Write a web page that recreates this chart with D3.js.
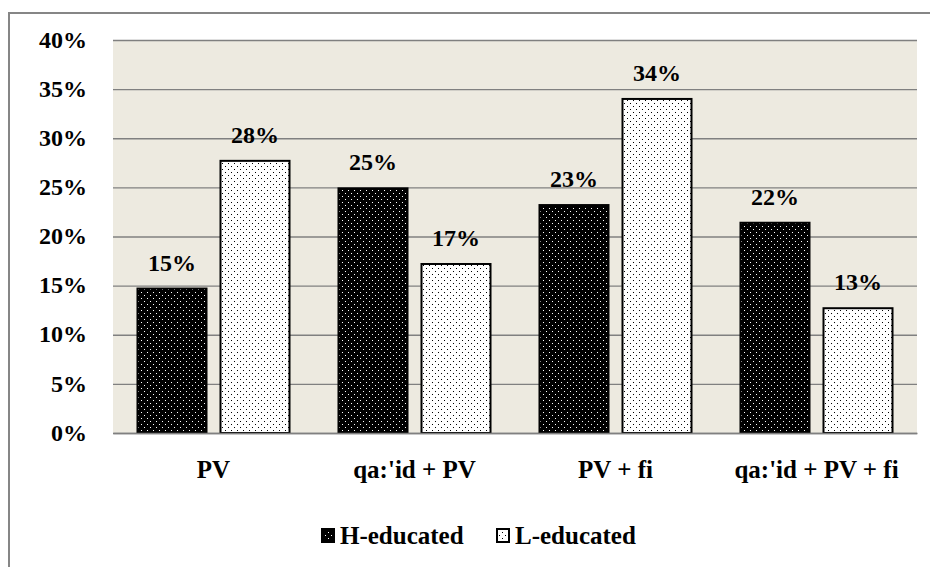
<!DOCTYPE html>
<html><head><meta charset="utf-8">
<script src="https://cdn.jsdelivr.net/npm/d3@7"></script>
<style>body{margin:0;background:#fff}svg{display:block}
svg text{font-family:"Liberation Serif","Times New Roman","DejaVu Serif",Tinos,serif;font-weight:bold}</style>
</head><body>
<script>
const categories = ["PV", "qa:'id + PV", "PV + fi", "qa:'id + PV + fi"];
const series = ["H-educated", "L-educated"];
const hEducated = [0.147, 0.249, 0.232, 0.214];
const lEducated = [0.277, 0.172, 0.340, 0.127];
const hLabels = ["15%", "25%", "23%", "22%"];
const lLabels = ["28%", "17%", "34%", "13%"];
const yTicks = [0, 0.05, 0.10, 0.15, 0.20, 0.25, 0.30, 0.35, 0.40];

(function(){
const W = 930, H = 567;
const svg = d3.select("body").append("svg").attr("width", W).attr("height", H);

const defs = svg.append("defs");
const pH = defs.append("pattern").attr("id","patH").attr("patternUnits","userSpaceOnUse").attr("width",6).attr("height",6);
pH.append("rect").attr("width",6).attr("height",6).attr("fill","#000");
pH.append("rect").attr("x",1).attr("y",1).attr("width",1).attr("height",1).attr("fill","#fff");
pH.append("rect").attr("x",4).attr("y",4).attr("width",1).attr("height",1).attr("fill","#fff");
const pL = defs.append("pattern").attr("id","patL").attr("patternUnits","userSpaceOnUse").attr("width",6).attr("height",6);
pL.append("rect").attr("width",6).attr("height",6).attr("fill","#fff");
pL.append("rect").attr("x",1).attr("y",1).attr("width",1).attr("height",1).attr("fill","#000");
pL.append("rect").attr("x",4).attr("y",4).attr("width",1).attr("height",1).attr("fill","#000");

// outer border
svg.append("rect").attr("x",9).attr("y",13).attr("width",W+20).attr("height",H+20)
  .attr("fill","none").attr("stroke","#868686").attr("stroke-width",2);

const pLeft = 113, pRight = 917, pTop = 40, pBottom = 433;
const y = d3.scaleLinear().domain([0, 0.40]).range([pBottom, pTop]);
const x0 = d3.scaleBand().domain(categories).range([pLeft, pRight]).padding(0);
const x1 = d3.scaleBand().domain(series).range([0, x0.bandwidth()]).paddingInner(14/83).paddingOuter(0.295);

svg.append("rect").attr("x",pLeft).attr("y",pTop).attr("width",pRight-pLeft).attr("height",pBottom-pTop).attr("fill","#EDEAE0");

const yAxis = d3.axisLeft(y).tickValues(yTicks).tickFormat(d3.format(".0%")).tickSize(-(pRight-pLeft)).tickPadding(26);
const ga = svg.append("g").attr("transform",`translate(${pLeft},0)`).call(yAxis);
ga.attr("font-family",null).attr("font-size",null);
ga.select(".domain").remove();
ga.selectAll(".tick line").attr("stroke","#808080").attr("stroke-width",1.3);
ga.selectAll(".tick text").style("font-size","24px").attr("fill","#000").attr("dy","0.3em");

const data = categories.map((c,i)=>({c, vals:[hEducated[i], lEducated[i]], labs:[hLabels[i], lLabels[i]]}));
const g = svg.selectAll("g.grp").data(data).join("g").attr("class","grp").attr("transform",d=>`translate(${x0(d.c)},0)`);
g.selectAll("rect").data(d=>d.vals.map((v,j)=>({s:series[j], v}))).join("rect")
  .attr("x",d=>x1(d.s)).attr("width",x1.bandwidth())
  .attr("y",d=>y(d.v)).attr("height",d=>y(0)-y(d.v))
  .attr("fill",(d,j)=>j===0?"url(#patH)":"url(#patL)")
  .attr("stroke","#000").attr("stroke-width",2);
g.selectAll("text").data(d=>d.vals.map((v,j)=>({s:series[j], v, lab:d.labs[j]}))).join("text")
  .attr("x",d=>x1(d.s)+x1.bandwidth()/2).attr("y",d=>y(d.v)-18)
  .attr("text-anchor","middle").style("font-size","24px")
  .text(d=>d.lab);

// category axis
const xAxis = d3.axisBottom(x0).tickSize(0).tickPadding(0);
const gx = svg.append("g").attr("transform",`translate(0,${pBottom})`).call(xAxis);
gx.attr("font-family",null).attr("font-size",null);
gx.select(".domain").attr("stroke","#808080").attr("stroke-width",1.3);
gx.selectAll(".tick text").style("font-size","25px").attr("fill","#000").attr("y",45).attr("dy",0);

// legend
const legend = [{s:series[0], x:321, fill:"url(#patH)"},{s:series[1], x:496, fill:"url(#patL)"}];
const lg = svg.selectAll("g.leg").data(legend).join("g").attr("class","leg");
lg.append("rect").attr("x",d=>d.x+1).attr("y",529).attr("width",12).attr("height",13).attr("fill",d=>d.fill).attr("stroke","#000").attr("stroke-width",2);
lg.append("text").attr("x",d=>d.x+19).attr("y",544).style("font-size","25px").text(d=>d.s);
})();
</script>
</body></html>
